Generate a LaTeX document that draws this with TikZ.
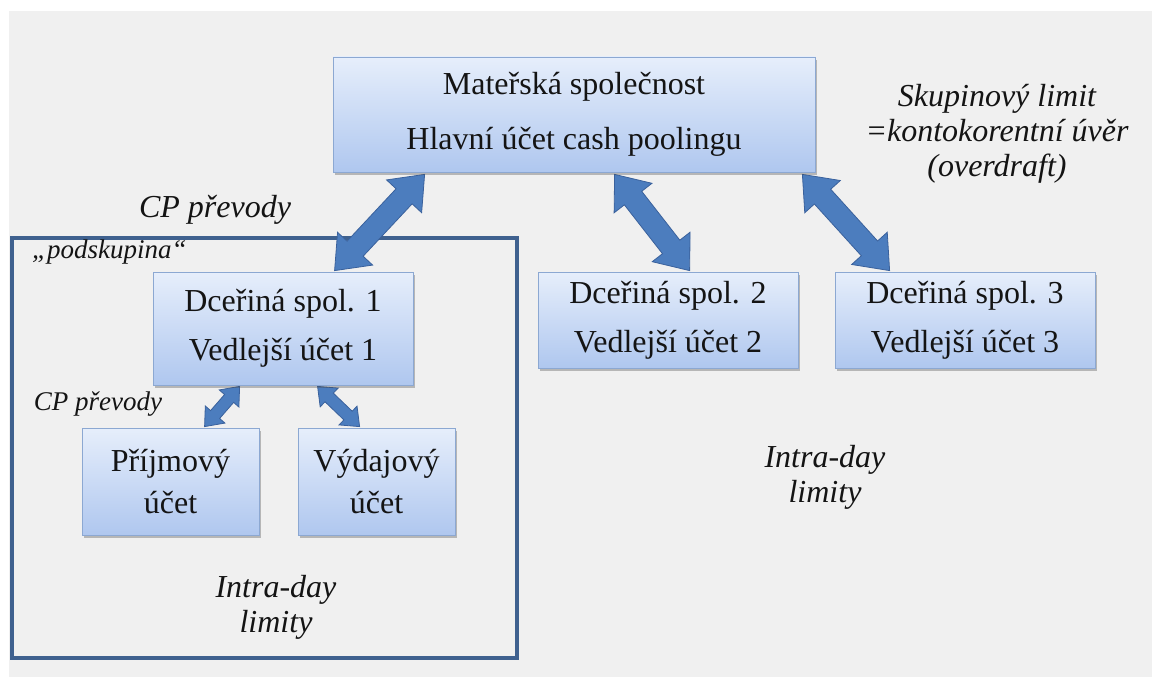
\documentclass[tikz,border=0pt]{standalone}
\usepackage{fontspec}
\setmainfont{LiberationSerif}[Extension=.ttf, UprightFont=*-Regular, ItalicFont=*-Italic, BoldFont=*-Bold, BoldItalicFont=*-BoldItalic]
\usetikzlibrary{calc,shadows}
\definecolor{bggray}{HTML}{F0F0F0}
\definecolor{boxtop}{HTML}{E6EEFB}
\definecolor{boxbot}{HTML}{AFC7EF}
\definecolor{boxedge}{HTML}{8CA8D2}
\definecolor{arrfill}{HTML}{4C7DBE}
\definecolor{arredge}{HTML}{3A619C}
\definecolor{framecol}{HTML}{3F618F}
\definecolor{txt}{HTML}{141414}
\pgfdeclarelayer{bg}
\pgfsetlayers{bg,main}
% block double arrow from #1 to #2: head length #3, shaft half width #4, head half width #5
\newcommand{\blockarr}[5]{%
  \coordinate (c1) at ($(#1)!#3!(#2)$);
  \coordinate (c2) at ($(#2)!#3!(#1)$);
  \path[blockarrow] (#1) -- ($(c1)!#5!90:(#2)$) -- ($(c1)!#4!90:(#2)$)
    -- ($(c2)!#4!-90:(#1)$) -- ($(c2)!#5!-90:(#1)$) -- (#2)
    -- ($(c2)!#5!90:(#1)$) -- ($(c2)!#4!90:(#1)$)
    -- ($(c1)!#4!-90:(#2)$) -- ($(c1)!#5!-90:(#2)$) -- cycle;
}
\begin{document}
\begin{tikzpicture}[x=1pt,y=-1pt,
  acct/.style={draw=boxedge, line width=0.8pt, top color=boxtop, bottom color=boxbot,
    inner sep=0pt, align=center, text=txt,
    drop shadow={shadow xshift=2pt, shadow yshift=-3pt, opacity=0.35, fill=black!70}},
  bigfont/.style={font={\fontsize{32}{55}\selectfont}},
  midfont/.style={font={\fontsize{32}{49}\selectfont}},
  smallfont/.style={font={\fontsize{32}{42}\selectfont}},
  lab/.style={inner sep=0pt, align=center, text=txt, font={\itshape\fontsize{32}{35}\selectfont}},
  smalllab/.style={inner sep=0pt, text=txt, font={\itshape\fontsize{27}{30}\selectfont}},
  blockarrow/.style={fill=arrfill, draw=arredge, line width=0.8pt, line join=miter},
  framebox/.style={draw=framecol, line width=4pt}]
\useasboundingbox (0,0) rectangle (1152,677);

% account boxes
\node[acct, bigfont, minimum width=482pt, minimum height=115pt] (main) at (574,114.5)
  {Mateřská společnost\\Hlavní účet cash poolingu};
\node[acct, midfont, minimum width=260pt, minimum height=113pt] (s1) at (283,328.5)
  {Dceřiná spol. 1\\Vedlejší účet 1};
\node[acct, midfont, minimum width=260pt, minimum height=96pt] (s2) at (668,320)
  {Dceřiná spol. 2\\Vedlejší účet 2};
\node[acct, midfont, minimum width=260pt, minimum height=96pt] (s3) at (965,320)
  {Dceřiná spol. 3\\Vedlejší účet 3};
\node[acct, smallfont, minimum width=177pt, minimum height=107pt] (prij) at (170.5,481.5)
  {Příjmový\\účet};
\node[acct, smallfont, minimum width=157pt, minimum height=107pt] (vyd) at (376.5,481.5)
  {Výdajový\\účet};

% labels
\node[lab] (skup) at (997,133.5) {Skupinový limit\\=kontokorentní úvěr\\(overdraft)};
\node[lab] (cp1) at (215,210) {CP převody};
\node[smalllab, anchor=west] (podsk) at (32,252) {„podskupina“};
\node[smalllab] (cp2) at (98,404) {CP převody};
\node[lab] (intra1) at (276,607) {Intra-day\\limity};
\node[lab] (intra2) at (825,477) {Intra-day\\limity};

% endpoints of the connectors
\coordinate (a1) at ([xshift=92pt,yshift=-2pt]main.south west);
\coordinate (b1) at ([xshift=182pt,yshift=1pt]s1.north west);
\coordinate (a2) at ([xshift=282pt,yshift=-2pt]main.south west);
\coordinate (b2) at ([xshift=152pt,yshift=1pt]s2.north west);
\coordinate (a3) at ([xshift=-13pt,yshift=-2pt]main.south east);
\coordinate (b3) at ([xshift=55pt,yshift=1pt]s3.north west);
\coordinate (a4) at ([xshift=87pt,yshift=-1pt]s1.south west);
\coordinate (b4) at ([xshift=123pt,yshift=1pt]prij.north west);
\coordinate (a5) at ([xshift=165pt,yshift=-1pt]s1.south west);
\coordinate (b5) at ([xshift=62pt,yshift=1pt]vyd.north west);

\begin{pgfonlayer}{bg}
  \fill[bggray] (9,11) rectangle (1152,677);
  \draw[framebox] (12,238) rectangle (517,658);
  \blockarr{a1}{b1}{30pt}{11pt}{24pt}
  \blockarr{a2}{b2}{30pt}{11pt}{24pt}
  \blockarr{a3}{b3}{30pt}{11pt}{24pt}
  \blockarr{a4}{b4}{16pt}{6pt}{13pt}
  \blockarr{a5}{b5}{16pt}{6pt}{13pt}
\end{pgfonlayer}
\end{tikzpicture}
\end{document}
